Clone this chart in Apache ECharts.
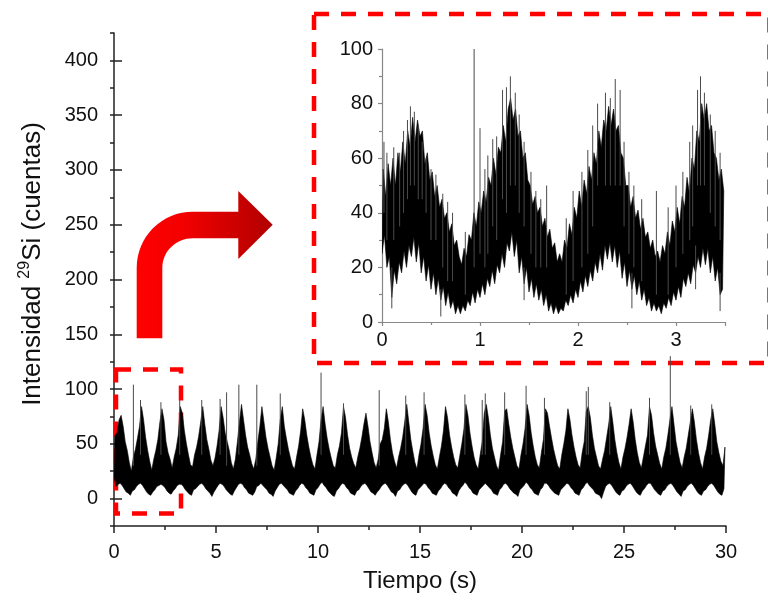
<!DOCTYPE html>
<html>
<head>
<meta charset="utf-8">
<script src="https://cdn.jsdelivr.net/npm/echarts@6/dist/echarts.min.js"></script>
<style>
  html, body { margin: 0; padding: 0; background: #fff; }
  #chart { width: 768px; height: 606px; }
</style>
</head>
<body>
<div id="chart"></div>
<script>
// ---- Main trace: 0.1 s bins, low / high value of the dense noisy band in each bin ----
const mainStep = 0.1;
const mainHi = [
  58,60,72,76,66,52,44,33,25,38,
  45,55,66,84,72,56,44,34,26,36,
  44,54,70,82,72,52,42,36,28,38,
  46,58,84,78,62,50,40,31,29,40,
  47,57,70,84,68,54,45,35,30,37,
  48,62,84,74,60,52,44,33,27,36,
  52,70,86,72,58,47,40,32,27,36,
  52,66,84,70,56,46,38,30,26,37,
  50,72,84,66,55,45,37,30,27,38,
  48,62,82,72,58,47,38,31,27,40,
  52,72,84,68,55,45,37,30,28,40,
  48,60,84,74,58,46,38,32,28,38,
  46,56,68,78,66,52,42,33,28,36,
  50,54,64,82,70,54,42,34,28,38,
  46,56,70,86,70,54,43,33,27,40,
  50,64,86,76,60,48,39,31,27,38,
  48,62,84,74,58,47,38,31,28,39,
  50,63,86,76,60,48,38,31,27,40,
  52,78,86,74,58,46,38,30,26,40,
  52,80,82,68,56,46,38,30,27,40,
  50,64,86,76,60,48,38,31,28,42,
  54,82,78,66,55,45,37,30,27,40,
  50,62,82,72,58,47,38,31,28,42,
  52,80,84,74,58,46,38,30,27,36,
  44,56,68,84,70,54,42,33,27,38,
  46,56,68,82,70,54,42,33,28,38,
  48,58,84,76,60,48,40,32,27,38,
  46,58,72,84,68,52,42,33,28,38,
  46,58,70,82,70,54,42,33,27,38,
  46,58,72,82,68,52,42,34,30,47
];
const mainLo = [
  20,11,13,14,12,9,6,5,3,7,
  8,11,13,14,12,9,6,4,3,6,
  8,11,12,13,12,10,7,5,4,7,
  9,12,13,13,11,8,6,4,3,8,
  9,11,13,14,12,9,7,5,2,6,
  9,12,14,13,11,8,6,4,3,7,
  10,13,14,13,10,8,5,4,3,6,
  11,12,14,12,10,8,5,4,2,7,
  10,13,14,12,10,8,5,4,3,7,
  9,12,14,13,10,8,5,4,3,8,
  10,13,15,12,10,7,5,3,2,7,
  9,12,14,13,10,8,5,4,3,7,
  8,11,13,14,12,9,6,5,3,6,
  8,11,13,14,12,9,6,5,2,7,
  8,11,13,14,12,9,6,4,3,8,
  10,12,14,13,10,8,5,4,3,7,
  9,12,14,13,10,8,5,4,2,7,
  10,12,15,13,10,8,5,4,3,8,
  10,12,14,12,10,8,5,4,3,8,
  10,13,14,12,9,7,5,4,2,8,
  10,12,15,13,10,8,5,4,3,8,
  10,14,14,12,9,7,5,4,3,8,
  10,12,14,13,10,8,5,4,3,8,
  10,13,15,12,10,8,5,4,3,0,
  6,11,13,14,12,9,6,4,3,7,
  8,11,13,14,12,9,6,4,3,7,
  9,12,14,14,11,8,6,4,3,7,
  8,11,13,14,12,9,6,4,2,7,
  8,11,13,14,12,9,6,4,3,7,
  8,11,13,14,12,9,6,4,3,9
];
// isolated single-sample spikes of the main trace: [time, from, to]
const mainSpikes = [
  [0.95, 30, 104], [1.3, 40, 90], [2.3, 40, 88], [3.22, 40, 90], [4.3, 40, 90],
  [5.2, 40, 91], [5.52, 30, 97], [6.12, 40, 104], [7.0, 30, 104], [8.15, 40, 96],
  [10.15, 40, 115], [11.25, 40, 87], [13.0, 30, 99], [14.3, 40, 94], [15.2, 40, 97],
  [17.2, 40, 95], [18.05, 40, 90], [18.2, 40, 96], [19.15, 40, 97], [20.2, 40, 103],
  [21.1, 40, 92], [23.15, 40, 98], [23.25, 40, 102], [24.3, 40, 88], [26.25, 40, 92],
  [27.27, 40, 130], [28.27, 40, 85], [29.3, 40, 86]
];

// ---- Inset trace (first 3.5 s): 0.025 s bins ----
const insetStep = 0.025;
const insetHi = [
  56,46,58,50, 60,50,62,55, 66,58,70,64, 75,66,74,68, 70,58,62,52,
  55,46,50,42, 45,38,40,33, 36,28,30,24, 21,27,24,32, 30,40,35,44,
  40,48,44,53, 50,60,54,64, 62,72,66,78, 82,74,78,68, 70,60,62,52,
  50,43,46,40, 42,35,38,31, 34,27,29,22, 25,22,30,27, 36,32,42,38,
  48,42,52,47, 57,52,62,58, 70,64,74,70, 79,72,78,70, 72,62,60,50,
  50,42,46,38, 41,34,38,31, 33,27,30,24, 26,22,28,25, 33,28,37,33,
  42,36,46,42, 53,47,60,56, 70,66,80,74, 80,70,72,62, 60,52,56,48
];
const insetLo = [
  25,32,20,24, 9,19,14,22, 18,26,20,28, 24,31,22,29, 18,24,15,21,
  12,18,10,16, 8,13,6,11, 5,8,3,6, 3,6,4,8, 6,11,7,12,
  9,14,10,16, 13,19,14,21, 18,25,20,29, 26,33,24,30, 18,24,14,20,
  11,16,9,14, 8,12,6,10, 4,7,3,6, 3,5,4,8, 6,10,7,12,
  9,15,11,17, 13,19,15,22, 18,25,19,28, 23,29,22,28, 20,26,16,22,
  13,19,12,17, 10,15,8,12, 6,9,4,7, 4,6,3,7, 5,9,6,11,
  8,13,9,16, 13,18,14,21, 18,24,20,27, 21,27,18,24, 15,20,10,12
];
// isolated spikes of the inset trace: [time, from, to]
const insetSpikes = [
  [0.02, 40, 66], [0.05, 30, 62], [0.12, 30, 64], [0.18, 35, 62], [0.22, 40, 70],
  [0.26, 45, 74], [0.29, 50, 79], [0.33, 50, 77], [0.37, 45, 72], [0.41, 45, 66],
  [0.45, 40, 60], [0.5, 30, 56], [0.55, 30, 54], [0.62, 20, 47], [0.67, 15, 44],
  [0.72, 15, 40], [0.85, 10, 33], [0.94, 20, 100], [1.0, 25, 71], [1.05, 20, 56],
  [1.08, 25, 61], [1.13, 35, 67], [1.17, 30, 68], [1.23, 45, 85], [1.27, 40, 86],
  [1.31, 50, 90], [1.36, 50, 84], [1.4, 40, 76], [1.45, 35, 66], [1.52, 25, 55],
  [1.57, 20, 48], [1.62, 20, 45], [1.68, 20, 50], [1.88, 10, 38], [1.95, 15, 48],
  [2.04, 20, 55], [2.1, 25, 63], [2.15, 35, 72], [2.2, 50, 80], [2.28, 50, 84],
  [2.33, 50, 82], [2.38, 50, 89], [2.43, 50, 85], [2.47, 35, 66], [2.52, 25, 55],
  [2.57, 20, 50], [2.65, 15, 45], [2.8, 10, 48], [2.92, 10, 42], [3.0, 20, 50],
  [3.07, 25, 55], [3.14, 30, 66], [3.17, 35, 72], [3.22, 50, 85], [3.25, 50, 90],
  [3.29, 50, 84], [3.35, 40, 76], [3.4, 35, 70], [3.45, 30, 62],
  [0.1, 5, 20], [0.6, 2, 12], [1.45, 8, 20], [2.55, 5, 18], [3.2, 12, 28], [3.45, 4, 18]
];

// ---- Axis ticks / labels ----
const mainXTicks = [0, 5, 10, 15, 20, 25, 30];
const mainYLabels = [0, 50, 100, 150, 200, 250, 300, 350, 400];
const insetXLabels = [0, 1, 2, 3];
const insetYLabels = [0, 20, 40, 60, 80, 100];

// filled band between lo (at bin start) and hi (at bin middle), positioned by the axes
function bandItem(hi, lo, step) {
  return function (params, api) {
    const pts = [];
    for (let i = 0; i < hi.length; i++) pts.push(api.coord([i * step + step / 2, hi[i]]));
    for (let i = lo.length - 1; i >= 0; i--) pts.push(api.coord([i * step, lo[i]]));
    return { type: 'polygon', shape: { points: pts }, style: { fill: '#000', stroke: '#000', lineWidth: 0.6 } };
  };
}
function spikeItem(params, api) {
  const a = api.coord([api.value(0), api.value(1)]);
  const b = api.coord([api.value(0), api.value(2)]);
  return { type: 'line', shape: { x1: a[0], y1: a[1], x2: b[0], y2: b[1] },
           style: { stroke: '#4a4a4a', lineWidth: 1 } };
}

// annotation arrow outline (pixel decoration, not data)
function arrowPoints() {
  const cx = 192.7, cy = 267.7;
  const pts = [[136.7, 338.3], [136.7, 267.7]];
  const n = 16;
  for (let k = 1; k < n; k++) {
    const a = Math.PI + (Math.PI / 2) * k / n;
    pts.push([cx + 56 * Math.cos(a), cy + 56 * Math.sin(a)]);
  }
  pts.push([192.7, 211.7], [238.3, 211.7], [238.3, 191], [272.7, 224.7],
           [238.3, 259], [238.3, 238.3], [192.7, 238.3]);
  for (let k = 1; k < n; k++) {
    const a = 1.5 * Math.PI - (Math.PI / 2) * k / n;
    pts.push([cx + 30.4 * Math.cos(a), cy + 29.4 * Math.sin(a)]);
  }
  pts.push([162.3, 267.7], [162.3, 338.3]);
  return pts;
}

const FONT = "'Liberation Sans', Arial, sans-serif";
const AX = '#222';
const INS = '#888';

const chart = echarts.init(document.getElementById('chart'), null, { renderer: 'canvas' });

const option = {
  animation: false,
  backgroundColor: '#fff',
  grid: [
    { left: 114, top: 33, width: 612, height: 493 },
    { left: 382, top: 49, width: 343, height: 273 }
  ],
  xAxis: [
    {
      type: 'value', gridIndex: 0, min: 0, max: 30, interval: 5,
      axisLine: { show: true, onZero: false, lineStyle: { color: AX, width: 1.5 } },
      axisTick: { show: true, length: 7, lineStyle: { color: AX, width: 1.5 } },
      minorTick: { show: true, splitNumber: 2, length: 4, lineStyle: { color: AX, width: 1.5 } },
      splitLine: { show: false },
      axisLabel: { fontSize: 20, color: '#111', margin: 16, fontFamily: FONT,
        formatter: v => mainXTicks.includes(v) ? String(v) : '' },
      name: 'Tiempo (s)', nameLocation: 'middle', nameGap: 43,
      nameTextStyle: { fontSize: 24, color: '#111', fontFamily: FONT }
    },
    {
      type: 'value', gridIndex: 1, min: 0, max: 3.5, interval: 1,
      axisLine: { show: true, onZero: false, lineStyle: { color: INS, width: 1.2 } },
      axisTick: { show: true, length: 4, lineStyle: { color: INS, width: 1.2 } },
      minorTick: { show: true, splitNumber: 2, length: 3, lineStyle: { color: INS, width: 1.2 } },
      splitLine: { show: false },
      axisLabel: { fontSize: 20, color: '#111', margin: 8, fontFamily: FONT, showMaxLabel: false,
        formatter: v => insetXLabels.includes(v) ? String(v) : '' }
    }
  ],
  yAxis: [
    {
      type: 'value', gridIndex: 0, min: -25, max: 425, interval: 25,
      axisLine: { show: true, onZero: false, lineStyle: { color: AX, width: 1.5 } },
      axisTick: { show: true, length: 4, interval: 0, lineStyle: { color: AX, width: 1.5 } },
      splitLine: { show: false },
      axisLabel: { fontSize: 20, color: '#111', margin: 16, fontFamily: FONT, interval: 0,
        formatter: v => mainYLabels.includes(v) ? String(v) : '' }
    },
    {
      type: 'value', gridIndex: 0, min: -25, max: 425,
      axisLine: { show: false },
      axisTick: { show: true, length: 8, customValues: mainYLabels, lineStyle: { color: AX, width: 1.5 } },
      splitLine: { show: false },
      axisLabel: { show: false }
    },
    {
      type: 'value', gridIndex: 1, min: 0, max: 100, interval: 20,
      axisLine: { show: true, onZero: false, lineStyle: { color: INS, width: 1.2 } },
      axisTick: { show: true, length: 4, lineStyle: { color: INS, width: 1.2 } },
      minorTick: { show: true, splitNumber: 2, length: 3, lineStyle: { color: INS, width: 1.2 } },
      splitLine: { show: false },
      axisLabel: { fontSize: 20, color: '#111', margin: 9, fontFamily: FONT,
        formatter: v => insetYLabels.includes(v) ? String(v) : '' }
    }
  ],
  series: [
    {
      type: 'custom', xAxisIndex: 0, yAxisIndex: 0, clip: true, z: 3,
      data: [[0, 0]], renderItem: bandItem(mainHi, mainLo, mainStep)
    },
    {
      type: 'custom', xAxisIndex: 0, yAxisIndex: 0, clip: true, z: 3,
      data: mainSpikes, encode: { x: 0, y: [1, 2] }, renderItem: spikeItem
    },
    {
      type: 'custom', xAxisIndex: 1, yAxisIndex: 2, clip: true, z: 3,
      data: [[0, 0]], renderItem: bandItem(insetHi, insetLo, insetStep)
    },
    {
      type: 'custom', xAxisIndex: 1, yAxisIndex: 2, clip: true, z: 3,
      data: insetSpikes, encode: { x: 0, y: [1, 2] }, renderItem: spikeItem
    }
  ],
  graphic: [
    {
      type: 'rect', z: 1,
      shape: { x: 314, y: 14, width: 455.5, height: 349 },
      style: { fill: 'transparent', stroke: '#ff0000', lineWidth: 4.5, lineDash: [15, 12] }
    },
    {
      type: 'rect', z: 1,
      shape: { x: 116, y: 369.5, width: 65, height: 144 },
      style: { fill: 'transparent', stroke: '#ff0000', lineWidth: 4.5, lineDash: [15, 12] }
    },
    {
      type: 'polygon', z: 1,
      shape: { points: arrowPoints() },
      style: {
        fill: new echarts.graphic.LinearGradient(0, 0, 1, 0, [
          { offset: 0, color: '#ff0000' },
          { offset: 0.35, color: '#f20000' },
          { offset: 1, color: '#b00000' }
        ])
      }
    },
    {
      type: 'text', z: 5,
      x: 33, y: 264, rotation: Math.PI / 2,
      style: {
        text: '{a|Intensidad }{s|29}{a|Si (cuentas)}',
        align: 'center', verticalAlign: 'middle',
        fill: '#111',
        rich: {
          a: { fontSize: 26, fontFamily: FONT, fill: '#111', lineHeight: 32 },
          s: { fontSize: 16, fontFamily: FONT, fill: '#111', verticalAlign: 'top', lineHeight: 17 }
        }
      }
    }
  ]
};

chart.setOption(option);
</script>
</body>
</html>
